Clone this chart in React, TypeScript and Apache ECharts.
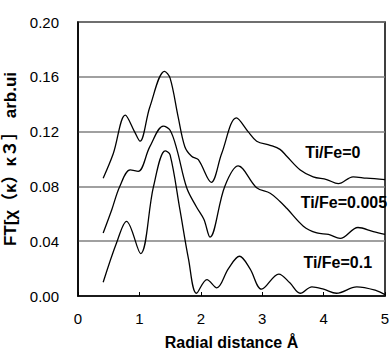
import React, { useEffect, useRef } from "react";
import * as echarts from "echarts";

const xTicks = [0, 1, 2, 3, 4, 5];
const yTicks = [0, 0.04, 0.08, 0.12, 0.16, 0.2];

const seriesNames = ["Ti/Fe=0", "Ti/Fe=0.005", "Ti/Fe=0.1"];

const tiFe0: [number, number][] = [
  [0.41, 0.086], [0.575, 0.104], [0.77, 0.132], [0.92, 0.12], [1.01, 0.113],
  [1.17, 0.138], [1.41, 0.164], [1.5, 0.159], [1.63, 0.131], [1.74, 0.109],
  [1.85, 0.102], [1.96, 0.0995], [2.17, 0.083], [2.34, 0.104], [2.58, 0.13],
  [2.77, 0.12], [2.91, 0.113], [3.13, 0.11], [3.29, 0.107], [3.4, 0.102],
  [3.62, 0.092], [3.83, 0.087], [4.05, 0.085], [4.24, 0.082], [4.48, 0.087],
  [4.7, 0.086], [5.0, 0.085],
];

const tiFe0005: [number, number][] = [
  [0.41, 0.046], [0.55, 0.063], [0.68, 0.08], [0.85, 0.092], [0.98, 0.091],
  [1.17, 0.109], [1.39, 0.124], [1.5, 0.121], [1.61, 0.107], [1.77, 0.079],
  [1.93, 0.065], [2.05, 0.056], [2.15, 0.043], [2.39, 0.08], [2.61, 0.095],
  [2.91, 0.079], [3.13, 0.075], [3.29, 0.069], [3.4, 0.064], [3.67, 0.051],
  [3.89, 0.046], [4.08, 0.045], [4.27, 0.042], [4.56, 0.05], [4.81, 0.047],
  [5.0, 0.045],
];

const tiFe01: [number, number][] = [
  [0.41, 0.01], [0.63, 0.039], [0.79, 0.0545], [1.02, 0.031],
  [1.23, 0.08], [1.42, 0.106], [1.5, 0.103], [1.66, 0.063], [1.8, 0.027],
  [1.93, 0.002], [2.1, 0.012], [2.26, 0.006], [2.45, 0.02], [2.63, 0.029],
  [2.8, 0.02], [2.99, 0.005], [3.27, 0.016], [3.45, 0.0096], [3.62, 0.002],
  [3.81, 0.0067], [4.0, 0.005], [4.21, 0.002], [4.54, 0.0067], [4.86, 0.004],
  [5.0, 0.001],
];

const labelPos: [number, number][] = [
  [4.15, 0.105],
  [4.33, 0.068],
  [4.23, 0.0245],
];

export default function App() {
  const ref = useRef<HTMLDivElement>(null);
  useEffect(() => {
    if (!ref.current) return;
    const chart = echarts.init(ref.current, null, { renderer: "svg" });
    const font = "'Liberation Sans', Arial, sans-serif";
    const datasets = [tiFe0, tiFe0005, tiFe01];
    chart.setOption({
      animation: false,
      textStyle: { fontFamily: font },
      grid: {
        left: 78,
        top: 22,
        right: 7,
        bottom: 54,
        show: true,
        borderColor: "#000",
        borderWidth: 1.5,
        containLabel: false,
        outerBoundsMode: "none",
      },
      xAxis: {
        type: "value",
        min: xTicks[0],
        max: xTicks[xTicks.length - 1],
        interval: 1,
        name: "Radial distance Å",
        nameLocation: "middle",
        nameGap: 38,
        nameTextStyle: { fontSize: 16, fontWeight: "bold", color: "#000", fontFamily: font },
        axisLine: { show: true, lineStyle: { color: "#000", width: 1.5 } },
        axisTick: { show: true, inside: true, length: 4, lineStyle: { color: "#000" } },
        axisLabel: { fontSize: 15, color: "#000", margin: 15, fontFamily: font },
        splitLine: { show: false },
      },
      yAxis: {
        type: "value",
        min: yTicks[0],
        max: yTicks[yTicks.length - 1],
        interval: 0.04,
        name: "FT[χ（κ）κ３］ arb.ui",
        nameLocation: "middle",
        nameGap: 55,
        nameTextStyle: {
          fontSize: 17,
          fontWeight: "bold",
          color: "#000",
          fontFamily: "'Liberation Sans', 'Noto Sans CJK JP', sans-serif",
        },
        axisLine: { show: true, lineStyle: { color: "#000", width: 1.5 } },
        axisTick: { show: false },
        axisLabel: {
          fontSize: 15,
          color: "#000",
          margin: 19,
          fontFamily: font,
          formatter: (v: number) => v.toFixed(2),
        },
        splitLine: { show: true, lineStyle: { color: "#808080", width: 1.5 } },
      },
      series: datasets.map((d, i) => ({
        name: seriesNames[i],
        type: "line",
        data: d,
        smooth: 0.35,
        symbol: "none",
        lineStyle: { color: "#000", width: 1.3 },
        markPoint: {
          symbol: "circle",
          symbolSize: 0,
          data: [{ coord: labelPos[i] }],
          label: {
            show: true,
            position: "inside",
            formatter: seriesNames[i],
            fontSize: 16,
            fontWeight: "bold",
            color: "#000",
            fontFamily: font,
          },
        },
      })),
    });
    return () => chart.dispose();
  }, []);
  return <div ref={ref} style={{ width: 392, height: 350, position: "absolute", left: 0, top: 0 }} />;
}
